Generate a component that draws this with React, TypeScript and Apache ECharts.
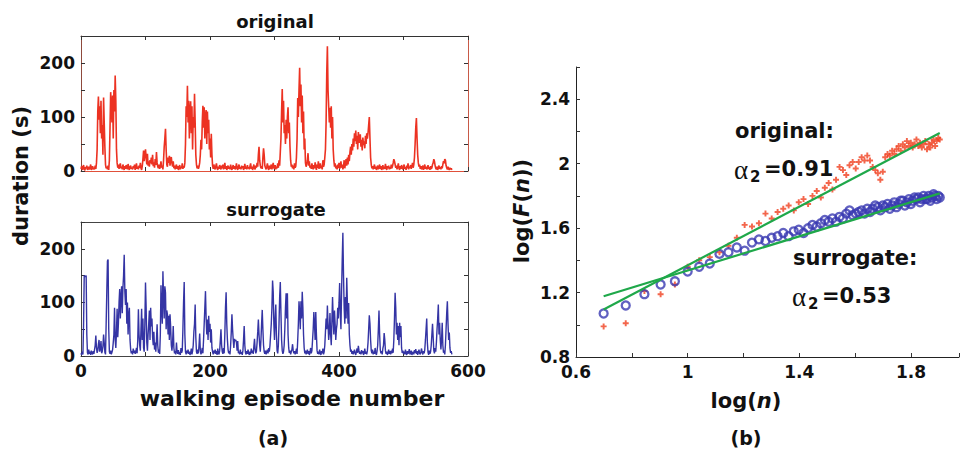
import React, { useEffect, useRef } from "react";
import * as echarts from "echarts";

// Durations (s) of consecutive walking episodes, original recording
const originalDurations = [
  4, 9, 2, 6, 11, 3, 1, 7, 5, 10, 2, 4, 8, 3, 6, 12, 2, 5, 9, 3,
  6, 3, 10, 4, 15, 40, 110, 138, 95, 120, 70, 130, 60, 85, 30, 136, 90, 45, 12, 5,
  8, 3, 10, 2, 20, 80, 146, 120, 90, 140, 60, 150, 110, 177, 130, 40, 15, 6, 12, 4,
  10, 14, 5, 8, 3, 12, 6, 2, 9, 4, 11, 7, 3, 13, 5, 2, 8, 10, 4, 6,
  3, 9, 5, 12, 2, 7, 14, 4, 8, 3, 10, 6, 15, 5, 2, 9, 22, 38, 18, 30,
  40, 25, 12, 32, 10, 18, 8, 20, 14, 25, 12, 30, 9, 16, 6, 22, 11, 35, 15, 8,
  5, 12, 4, 9, 18, 6, 10, 3, 20, 45, 60, 78, 40, 12, 8, 25, 15, 28, 10, 22,
  26, 14, 8, 18, 5, 10, 3, 7, 12, 4, 9, 2, 6, 11, 3, 8, 5, 14, 4, 9,
  6, 15, 50, 120, 100, 158, 90, 130, 60, 110, 129, 70, 120, 40, 100, 80, 143, 90, 30, 12,
  5, 10, 4, 8, 15, 30, 58, 40, 90, 121, 80, 118, 60, 100, 113, 50, 110, 70, 95, 40,
  60, 25, 69, 30, 10, 4, 12, 6, 3, 9, 14, 5, 2, 8, 4, 11, 6, 3, 10, 5,
  12, 3, 7, 15, 4, 9, 2, 6, 10, 4, 8, 3, 12, 5, 2, 7, 11, 4, 9, 3,
  6, 14, 5, 2, 8, 12, 4, 7, 3, 10, 5, 9, 2, 6, 13, 4, 8, 3, 11, 5,
  7, 3, 9, 14, 4, 8, 2, 6, 12, 5, 3, 10, 6, 15, 8, 30, 45, 20, 10, 5,
  9, 4, 25, 42, 30, 10, 6, 3, 8, 14, 5, 2, 10, 4, 7, 12, 3, 9, 15, 6,
  4, 11, 3, 8, 5, 14, 6, 20, 10, 35, 60, 110, 152, 90, 130, 70, 85, 50, 95, 60,
  100, 118, 70, 90, 45, 20, 8, 12, 5, 10, 3, 14, 6, 9, 25, 60, 135, 100, 150, 191,
  120, 160, 90, 140, 70, 110, 40, 60, 15, 8, 12, 20, 33, 10, 18, 6, 10, 4, 14, 7,
  3, 11, 5, 16, 8, 2, 12, 6, 18, 4, 9, 14, 5, 10, 3, 20, 8, 12, 25, 40,
  90, 180, 231, 150, 120, 90, 117, 80, 120, 60, 100, 40, 20, 8, 14, 5, 10, 3, 12, 6,
  15, 4, 9, 18, 6, 12, 3, 8, 20, 5, 14, 22, 10, 25, 12, 30, 18, 35, 45, 30,
  50, 38, 60, 45, 70, 55, 75, 50, 65, 40, 72, 60, 52, 68, 45, 58, 38, 62, 48, 55,
  42, 65, 50, 70, 60, 70, 85, 100, 60, 25, 12, 5, 9, 3, 7, 12, 4, 8, 2, 6,
  10, 3, 7, 12, 4, 9, 2, 5, 11, 3, 8, 4, 13, 6, 2, 9, 5, 10, 3, 7,
  4, 12, 5, 9, 15, 22, 18, 12, 6, 10, 3, 8, 14, 5, 2, 9, 4, 11, 6, 3,
  8, 12, 4, 7, 2, 10, 5, 14, 3, 8, 6, 11, 4, 9, 15, 6, 12, 25, 50, 80,
  98, 60, 30, 15, 8, 12, 4, 9, 3, 6, 10, 2, 7, 12, 4, 8, 3, 5, 11, 4,
  7, 2, 9, 4, 6, 12, 15, 22, 18, 10, 5, 3, 8, 2, 6, 10, 4, 7, 3, 9,
  5, 12, 18, 14, 22, 20, 10, 6, 3, 8, 4, 2, 6, 3, 5, 2,
];

// Durations (s) of the shuffled surrogate sequence
const surrogateDurations = [
  5, 2, 8, 3, 60, 150, 150, 148, 150, 40, 6, 3, 12, 4, 8, 2, 10, 5, 3, 9,
  4, 12, 20, 38, 15, 6, 10, 22, 30, 8, 14, 28, 5, 9, 18, 40, 25, 7, 3, 60,
  120, 177, 180, 50, 8, 4, 10, 3, 7, 12, 25, 40, 90, 30, 15, 45, 88, 35, 60, 100,
  125, 70, 110, 130, 80, 127, 150, 189, 120, 95, 125, 60, 100, 40, 75, 90, 30, 12, 5, 9,
  3, 14, 6, 10, 4, 8, 15, 5, 30, 87, 40, 20, 10, 50, 88, 30, 70, 15, 8, 60,
  137, 90, 25, 10, 40, 60, 85, 30, 90, 55, 70, 35, 20, 45, 12, 25, 8, 30, 59, 20,
  6, 12, 4, 40, 132, 90, 60, 158, 110, 70, 130, 118, 50, 85, 77, 40, 75, 30, 78, 55,
  20, 10, 25, 56, 15, 5, 9, 3, 25, 8, 4, 11, 3, 7, 2, 15, 6, 10, 50, 100,
  138, 40, 8, 3, 10, 5, 12, 4, 8, 2, 6, 14, 3, 9, 20, 45, 60, 96, 35, 8,
  4, 12, 5, 20, 42, 10, 3, 8, 15, 5, 30, 60, 90, 121, 70, 40, 68, 30, 75, 45,
  60, 25, 50, 15, 8, 3, 10, 5, 12, 4, 9, 2, 14, 6, 3, 10, 30, 50, 20, 8,
  4, 15, 5, 40, 90, 119, 60, 30, 12, 5, 9, 3, 20, 45, 78, 50, 30, 15, 32, 28,
  30, 25, 10, 28, 5, 8, 3, 12, 4, 7, 2, 10, 30, 56, 20, 6, 3, 9, 4, 12,
  5, 2, 8, 3, 14, 6, 10, 4, 18, 32, 12, 5, 9, 25, 45, 68, 40, 20, 8, 30,
  60, 86, 50, 20, 8, 4, 10, 3, 7, 12, 5, 15, 8, 20, 40, 60, 90, 141, 120, 60,
  30, 70, 96, 40, 10, 5, 20, 60, 110, 138, 80, 30, 10, 4, 8, 20, 50, 90, 117, 70,
  117, 40, 15, 6, 10, 3, 8, 12, 22, 10, 5, 9, 3, 7, 14, 4, 30, 60, 102, 80,
  50, 102, 70, 120, 90, 40, 15, 5, 10, 3, 7, 12, 4, 9, 2, 6, 15, 5, 10, 30,
  50, 82, 60, 30, 82, 40, 10, 4, 8, 3, 12, 6, 2, 9, 5, 14, 3, 8, 20, 45,
  70, 50, 94, 60, 30, 45, 80, 40, 20, 65, 110, 70, 40, 85, 60, 30, 50, 60, 90, 70,
  100, 136, 80, 50, 120, 180, 230, 150, 90, 60, 110, 70, 146, 100, 60, 99, 40, 20, 8, 12,
  4, 9, 3, 7, 12, 5, 2, 8, 14, 6, 19, 10, 4, 8, 3, 11, 5, 9, 2, 6,
  14, 4, 8, 3, 10, 25, 50, 76, 60, 30, 10, 5, 12, 3, 8, 4, 15, 6, 2, 9,
  20, 50, 85, 40, 12, 5, 9, 3, 14, 20, 43, 30, 10, 4, 8, 2, 6, 12, 4, 9,
  3, 10, 5, 14, 6, 30, 70, 118, 90, 40, 62, 30, 56, 20, 62, 35, 56, 15, 6, 10,
  4, 8, 3, 12, 5, 2, 9, 4, 7, 13, 3, 6, 10, 2, 5, 8, 3, 11, 6, 13,
  4, 9, 2, 7, 12, 5, 3, 8, 14, 6, 3, 9, 5, 12, 30, 50, 70, 25, 7, 2,
  10, 4, 8, 20, 40, 60, 35, 10, 5, 15, 8, 25, 50, 70, 96, 40, 62, 30, 12, 30,
  62, 20, 6, 10, 3, 20, 50, 80, 102, 60, 30, 44, 15, 6, 9, 3,
];

// DFA window sizes n and fluctuation functions log10 F(n)
const windowSizes = [
  5, 6, 7, 8, 9, 10, 11, 12, 13, 14, 15, 16, 17, 18, 19, 20, 21, 22, 23, 24,
  25, 26, 27, 28, 29, 30, 31, 32, 33, 34, 35, 36, 37, 38, 39, 40, 41, 42, 43, 44,
  45, 46, 47, 48, 49, 50, 51, 52, 53, 54, 55, 56, 57, 58, 59, 60, 61, 62, 63, 64,
  65, 66, 67, 68, 69, 70, 71, 72, 73, 74, 75, 76, 77, 78, 79, 80,
];
const logFOriginal = [
  0.99, 1.01, 1.21, 1.19, 1.25, 1.36, 1.4, 1.42, 1.45, 1.49,
  1.54, 1.62, 1.61, 1.63, 1.69, 1.66, 1.7, 1.72, 1.74, 1.71,
  1.76, 1.78, 1.75, 1.8, 1.83, 1.79, 1.85, 1.88, 1.84, 1.9,
  1.98, 1.96, 1.93, 1.99, 2.01, 1.97, 2.01, 2.04, 2.02, 2.05,
  2.02, 1.98, 1.96, 1.94, 1.9, 1.95, 2.04, 2.06, 2.05, 2.08,
  2.06, 2.09, 2.11, 2.08, 2.12, 2.1, 2.14, 2.11, 2.13, 2.1,
  2.12, 2.15, 2.11, 2.13, 2.1, 2.12, 2.14, 2.09, 2.12, 2.1,
  2.13, 2.15, 2.11, 2.14, 2.16, 2.15,
];
const logFSurrogate = [
  1.07, 1.12, 1.19, 1.25, 1.27, 1.33, 1.36, 1.38, 1.44, 1.45,
  1.48, 1.46, 1.51, 1.53, 1.52, 1.54, 1.55, 1.57, 1.55, 1.58,
  1.59, 1.57, 1.6, 1.62, 1.61, 1.63, 1.65, 1.64, 1.66, 1.64,
  1.67, 1.66, 1.69, 1.71, 1.68, 1.69, 1.7, 1.71, 1.69, 1.72,
  1.7, 1.72, 1.74, 1.73, 1.71, 1.74, 1.73, 1.75, 1.72, 1.74,
  1.76, 1.73, 1.75, 1.77, 1.77, 1.74, 1.76, 1.78, 1.75, 1.77,
  1.79, 1.78, 1.79, 1.76, 1.78, 1.8, 1.78, 1.78, 1.8, 1.77,
  1.79, 1.81, 1.8, 1.78, 1.8, 1.79,
];

// Linear fits: [original, surrogate]
const fitSlopes = [0.91, 0.53];
const fitIntercepts = [0.459, 0.807];

// Tick labels
const durationLabels = [0, 100, 200];
const episodeLabels = [0, 200, 400, 600];
const logFLabels = [0.8, 1.2, 1.6, 2, 2.4];
const logNLabels = [0.6, 1, 1.4, 1.8];

const FONT = "DejaVu Sans";
const RED = "#ec3222";
const BLUE = "#3434a4";
const GREEN = "#1fa84a";

const pick = (labels: number[]) => (v: number) =>
  labels.some((l) => Math.abs(l - v) < 1e-6) ? String(+v.toFixed(1)) : "";

const tickLabel = {
  fontFamily: FONT,
  fontWeight: "bold" as const,
  fontSize: 17,
  color: "#111",
};

function axis(opts: any) {
  const { color = "#333", labels, ...rest } = opts;
  return {
    type: "value",
    splitLine: { show: false },
    axisLine: { show: true, onZero: false, lineStyle: { color, width: 1 } },
    axisTick: { show: true, inside: true, length: 4, lineStyle: { color: "#333" } },
    axisLabel: labels
      ? { ...tickLabel, formatter: pick(labels), margin: 6 }
      : { show: false },
    ...rest,
  };
}

const txt = (x: number, y: number, text: string, size: number, extra: any = {}) => ({
  type: "text",
  x,
  y,
  ...extra,
  style: {
    text,
    fontFamily: FONT,
    fontWeight: "bold",
    fontSize: size,
    fill: "#111",
    align: "center",
    verticalAlign: "middle",
    ...(extra.style || {}),
  },
});

export default function App() {
  const ref = useRef<HTMLDivElement>(null);

  useEffect(() => {
    if (!ref.current) return;
    const chart = echarts.init(ref.current, null, { renderer: "svg" });

    const logN = windowSizes.map((n) => Math.log10(n));
    const fitEnds = [logN[0], logN[logN.length - 1]];
    const fitLine = (k: number) =>
      fitEnds.map((x) => [x, fitIntercepts[k] + fitSlopes[k] * x]);

    const rich = {
      n: { fontFamily: FONT, fontWeight: "bold", fontSize: 21, fill: "#111", color: "#111" },
      i: { fontFamily: FONT, fontWeight: "bold", fontStyle: "italic", fontSize: 21, fill: "#111", color: "#111" },
    };

    chart.setOption({
      animation: false,
      backgroundColor: "#fff",
      grid: [
        { left: 81, top: 36, width: 387, height: 135 },
        { left: 81, top: 222, width: 387, height: 134 },
        { left: 576, top: 67, width: 386, height: 290 },
      ],
      xAxis: [
        axis({ gridIndex: 0, min: 0, max: 600, interval: 100, color: "#e0503a" }),
        axis({ gridIndex: 0, min: 0, max: 600, interval: 100, position: "top", color: "#333" }),
        axis({ gridIndex: 1, min: 0, max: 600, interval: 100, color: "#444", labels: episodeLabels }),
        axis({ gridIndex: 1, min: 0, max: 600, interval: 100, position: "top", color: "#444" }),
        axis({ gridIndex: 2, min: 0.6, max: 1.972, interval: 0.2, color: "#222", labels: logNLabels }),
      ],
      yAxis: [
        axis({ gridIndex: 0, min: 0, max: 250, interval: 50, color: "#8e4a3c", labels: durationLabels }),
        axis({ gridIndex: 0, min: 0, max: 250, interval: 50, position: "right", color: "#c85a48" }),
        axis({ gridIndex: 1, min: 0, max: 250, interval: 50, color: "#444", labels: durationLabels }),
        axis({ gridIndex: 1, min: 0, max: 250, interval: 50, position: "right", color: "#444" }),
        axis({ gridIndex: 2, min: 0.8, max: 2.6, interval: 0.2, color: "#222", labels: logFLabels }),
      ],
      series: [
        {
          type: "line",
          xAxisIndex: 0,
          yAxisIndex: 0,
          showSymbol: false,
          lineStyle: { color: RED, width: 1.6 },
          data: originalDurations.map((v, i) => [i, v]),
        },
        {
          type: "line",
          xAxisIndex: 2,
          yAxisIndex: 2,
          showSymbol: false,
          lineStyle: { color: BLUE, width: 1.4 },
          data: surrogateDurations.map((v, i) => [i, v]),
        },
        {
          type: "scatter",
          xAxisIndex: 4,
          yAxisIndex: 4,
          symbol: "path://M3.4,0H6.6V3.4H10V6.6H6.6V10H3.4V6.6H0V3.4H3.4Z",
          symbolSize: 6,
          itemStyle: { color: "#f0401f" },
          data: logN.map((x, i) => [x, logFOriginal[i]]),
        },
        {
          type: "scatter",
          xAxisIndex: 4,
          yAxisIndex: 4,
          symbol: "circle",
          symbolSize: 8,
          itemStyle: { color: "rgba(255,255,255,0)", borderColor: "#3939b2", borderWidth: 2.3 },
          data: logN.map((x, i) => [x, logFSurrogate[i]]),
        },
        {
          type: "line",
          xAxisIndex: 4,
          yAxisIndex: 4,
          showSymbol: false,
          lineStyle: { color: GREEN, width: 2.2 },
          data: fitLine(0),
        },
        {
          type: "line",
          xAxisIndex: 4,
          yAxisIndex: 4,
          showSymbol: false,
          lineStyle: { color: GREEN, width: 2.2 },
          data: fitLine(1),
        },
      ],
      graphic: [
        txt(275, 21, "original", 18),
        txt(276, 209, "surrogate", 18),
        txt(21, 176, "duration (s)", 21, { rotation: Math.PI / 2 }),
        txt(292, 398, "walking episode number", 22),
        txt(273, 438, "(a)", 19),
        txt(746, 438, "(b)", 19),
        txt(746, 401, "", 21, { style: { text: "{n|log(}{i|n}{n|)}", rich } }),
        txt(522, 211, "", 21, {
          rotation: Math.PI / 2,
          style: { text: "{n|log(}{i|F}{n|(}{i|n}{n|))}", rich },
        }),
        txt(735, 131, "original:", 21, { style: { align: "left" } }),
        txt(734, 170, "\u03b1", 27, {
          style: { align: "left", fontFamily: "Liberation Serif", fontWeight: "normal" },
        }),
        txt(750, 177, "2", 15, { style: { align: "left" } }),
        txt(764, 169, "=" + fitSlopes[0].toFixed(2), 21, { style: { align: "left" } }),
        txt(793, 258, "surrogate:", 21, { style: { align: "left" } }),
        txt(792, 297, "\u03b1", 27, {
          style: { align: "left", fontFamily: "Liberation Serif", fontWeight: "normal" },
        }),
        txt(808, 304, "2", 15, { style: { align: "left" } }),
        txt(822, 296, "=" + fitSlopes[1].toFixed(2), 21, { style: { align: "left" } }),
      ],
    });

    return () => chart.dispose();
  }, []);

  return (
    <div
      ref={ref}
      style={{ position: "absolute", left: 0, top: 0, width: 962, height: 453 }}
    />
  );
}
